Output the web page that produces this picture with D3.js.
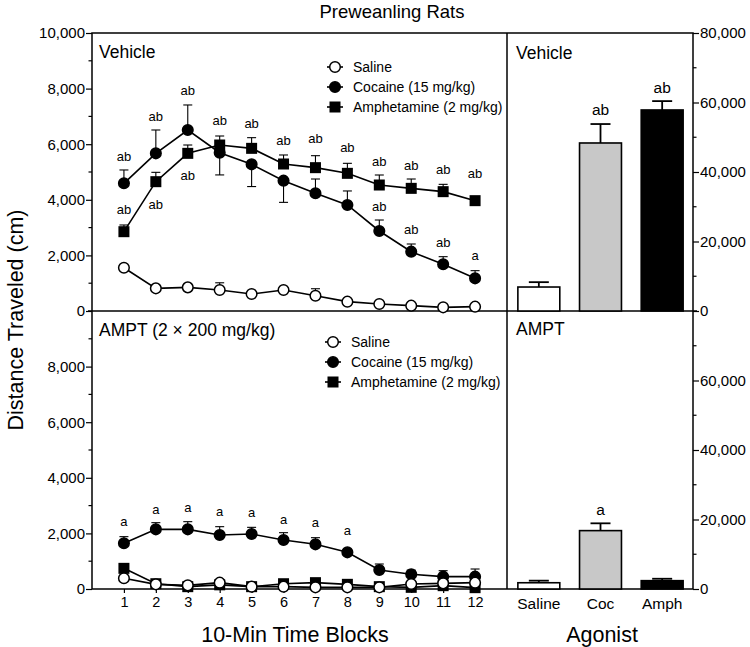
<!DOCTYPE html>
<html><head><meta charset="utf-8">
<script src="https://cdn.jsdelivr.net/npm/d3@7"></script>
<style>
body{margin:0;background:#fff;}
svg text{font-family:"Liberation Sans",Arial,sans-serif;fill:#000;}
</style></head>
<body><svg id="c" width="750" height="647"></svg>
<script>
// ---------- DATA ----------
const timeBlocks = [1,2,3,4,5,6,7,8,9,10,11,12];
const vehSaline    = [1557,815,850,755,611,755,551,336,252,192,132,156];
const vehSalineErr = [90,90,90,260,90,90,250,90,90,90,90,90];
const vehCocaine    = [4593,5671,6511,5695,5276,4688,4233,3813,2878,2134,1679,1175];
const vehCocaineErr = [480,840,900,800,800,780,515,505,395,276,275,276];
const vehCocaineErrDir = [1,1,1,-1,-1,-1,1,1,1,1,1,1];
const vehAmph    = [2853,4652,5671,5971,5851,5288,5156,4952,4532,4412,4293,3969];
const vehAmphErr = [241,336,300,324,384,324,431,360,360,336,263,100];
const vehLabelsCoc = ["ab","ab","ab","","","","","","ab","ab","ab","a"];
const vehLabelsCocAt = [5576,6996,7924,null,null,null,null,null,3777,2950,2482,2000];
const vehLabelsAmph = ["ab","ab","ab","ab","ab","ab","ab","ab","ab","ab","ab","ab"];
const vehLabelsAmphAt = [3669,3849,4874,6871,6750,6151,6212,5888,5371,5252,5097,4953];

const amptSaline    = [384,168,132,228,84,84,60,60,60,180,204,228];
const amptSalineErr = [60,60,60,80,60,60,60,60,60,60,60,60];
const amptCocaine    = [1643,2146,2146,1942,1978,1763,1607,1319,683,528,444,444];
const amptCocaineErr = [240,240,276,300,240,263,239,100,216,150,215,275];
const amptAmph    = [743,190,84,150,84,190,228,168,84,60,120,48];
const amptAmphErr = [60,60,60,60,60,60,60,60,60,60,60,60];
const amptLabelsCoc = ["a","a","a","a","a","a","a","a","","","",""];
const amptLabelsCocAt = [2421,2878,2939,2781,2759,2518,2399,2097,null,null,null,null];

const agonists = ["Saline","Coc","Amph"];
const vehTotals = [6900,48350,57850];
const vehTotalsErr = [1400,5450,2550];
const vehTotalsLabels = ["","ab","ab"];
const amptTotals = [1800,16800,2400];
const amptTotalsErr = [600,2100,550];
const amptTotalsLabels = ["","a",""];

const leftTicks = [0,2000,4000,6000,8000,10000];
const leftTickLabels = ["0","2,000","4,000","6,000","8,000","10,000"];
const rightTicks = [0,20000,40000,60000,80000];
const rightTickLabels = ["0","20,000","40,000","60,000","80,000"];
const legendNames = ["Saline","Cocaine (15 mg/kg)","Amphetamine (2 mg/kg)"];

// ---------- LAYOUT ----------
const svg = d3.select("#c");
const L=92, M=507, R=693, T=33, MID=311, B=589;
const x = d3.scaleLinear().domain([0,13]).range([L,M]);
const yTop = d3.scaleLinear().domain([0,10000]).range([MID,T]);
const yBot = d3.scaleLinear().domain([0,10000]).range([B,MID]);
const xb = d3.scaleBand().domain(agonists).range([M+1,R]).paddingInner(0.32).paddingOuter(0.16);
const ybTop = d3.scaleLinear().domain([0,80000]).range([MID,T]);
const ybBot = d3.scaleLinear().domain([0,80000]).range([B,MID]);

// Title & axis titles
svg.append("text").attr("x",392).attr("y",18).attr("text-anchor","middle").style("font-size","18.5px").text("Preweanling Rats");
svg.append("text").attr("transform","translate(23,320) rotate(-90)").attr("text-anchor","middle").style("font-size","21.5px").text("Distance Traveled (cm)");
svg.append("text").attr("x",295).attr("y",642).attr("text-anchor","middle").style("font-size","21.5px").text("10-Min Time Blocks");
svg.append("text").attr("x",602).attr("y",642).attr("text-anchor","middle").style("font-size","21.5px").text("Agonist");

// Left axes
function leftAxis(y, g, showTop){
  const major = leftTicks.filter(v=>showTop||v<10000);
  const minor = d3.range(1000,10000,2000);
  const ax = d3.axisLeft(y).tickValues(major).tickSize(6).tickFormat(v=>leftTickLabels[leftTicks.indexOf(v)]);
  g.attr("transform",`translate(${L},0)`).call(ax);
  g.select(".domain").remove();
  g.selectAll("text").style("font-size","15px").attr("x",-7);
  g.selectAll(".minor").data(minor).enter().append("line").attr("class","minor")
    .attr("x1",0).attr("x2",-3.5).attr("y1",d=>y(d)).attr("y2",d=>y(d)).attr("stroke","#000").attr("stroke-width",1.2);
  g.selectAll("line").attr("stroke-width",1.2);
}
leftAxis(yTop, svg.append("g"), true);
leftAxis(yBot, svg.append("g"), false);

function rightAxis(y, g, showTop){
  const major = rightTicks.filter(v=>showTop||v<80000);
  const minor = d3.range(10000,80000,20000);
  const ax = d3.axisRight(y).tickValues(major).tickSize(6).tickFormat(v=>rightTickLabels[rightTicks.indexOf(v)]);
  g.attr("transform",`translate(${R},0)`).call(ax);
  g.select(".domain").remove();
  g.selectAll("text").style("font-size","15px").attr("x",7);
  g.selectAll(".minor").data(minor).enter().append("line").attr("class","minor")
    .attr("x1",0).attr("x2",3.5).attr("y1",d=>y(d)).attr("y2",d=>y(d)).attr("stroke","#000").attr("stroke-width",1.2);
  g.selectAll("line").attr("stroke-width",1.2);
}
rightAxis(ybTop, svg.append("g"), true);
rightAxis(ybBot, svg.append("g"), false);

// bottom x axis
const gx = svg.append("g").attr("transform",`translate(0,${B})`)
  .call(d3.axisBottom(x).tickValues(timeBlocks).tickSize(4).tickFormat(d=>d));
gx.select(".domain").remove();
gx.selectAll("text").style("font-size","14.5px").attr("y",8);
gx.selectAll("line").attr("stroke-width",1.2);
const gxb = svg.append("g").attr("transform",`translate(0,${B})`)
  .call(d3.axisBottom(xb).tickSize(0));
gxb.select(".domain").remove();
gxb.selectAll("text").style("font-size","15.5px").attr("y",9);

// Frame
const frame = svg.append("g").attr("stroke","#000").attr("stroke-width",1.5).attr("fill","none");
frame.append("rect").attr("x",L).attr("y",T).attr("width",R-L).attr("height",B-T);
frame.append("line").attr("x1",L-4).attr("x2",R+4).attr("y1",MID).attr("y2",MID);
frame.append("line").attr("x1",M).attr("x2",M).attr("y1",T).attr("y2",B);

// Line panels
function series(g, y, vals, errs, dirs, shape){
  const pts = timeBlocks.map((t,i)=>({t, v:vals[i], e:errs[i], d:dirs?dirs[i]:1}));
  const eg = g.append("g").attr("stroke","#000").attr("stroke-width",1.1);
  pts.forEach(p=>{
    const ye = y(p.v + p.d*p.e);
    eg.append("line").attr("x1",x(p.t)).attr("x2",x(p.t)).attr("y1",y(p.v)).attr("y2",ye);
    eg.append("line").attr("x1",x(p.t)-4.5).attr("x2",x(p.t)+4.5).attr("y1",ye).attr("y2",ye);
  });
  g.append("path").datum(pts).attr("fill","none").attr("stroke","#000").attr("stroke-width",1.6)
    .attr("d", d3.line().x(p=>x(p.t)).y(p=>y(p.v)));
  drawMarks(g, pts.map(p=>[x(p.t), y(p.v)]), shape);
}
function drawMarks(g, coords, shape){
  coords.forEach(([cx,cy])=>{
    if(shape==="square"){
      g.append("rect").attr("x",cx-5.5).attr("y",cy-5.5).attr("width",11).attr("height",11).attr("fill","#000");
    } else {
      g.append("circle").attr("cx",cx).attr("cy",cy).attr("r",5.3)
        .attr("fill", shape==="open"?"#fff":"#000").attr("stroke","#000").attr("stroke-width",1.5);
    }
  });
}
function labels(g, y, texts, at){
  texts.forEach((t,i)=>{
    if(!t) return;
    g.append("text").attr("x",x(timeBlocks[i])).attr("y",y(at[i])).attr("dy","0.35em")
      .attr("text-anchor","middle").style("font-size","13px").text(t);
  });
}
function legend(g, lx, ly){
  const shapes=["open","filled","square"];
  legendNames.forEach((n,i)=>{
    const yy = ly + i*20;
    g.append("line").attr("x1",lx-8).attr("x2",lx+8).attr("y1",yy).attr("y2",yy).attr("stroke","#000").attr("stroke-width",1.6);
    drawMarks(g, [[lx,yy]], shapes[i]);
    g.append("text").attr("x",lx+18).attr("y",yy).attr("dy","0.35em").style("font-size","14px").text(n);
  });
}

const gt = svg.append("g");
series(gt, yTop, vehCocaine, vehCocaineErr, vehCocaineErrDir, "filled");
series(gt, yTop, vehAmph, vehAmphErr, null, "square");
series(gt, yTop, vehSaline, vehSalineErr, null, "open");
labels(gt, yTop, vehLabelsCoc, vehLabelsCocAt);
labels(gt, yTop, vehLabelsAmph, vehLabelsAmphAt);
legend(gt, 335, 67);
gt.append("text").attr("x",99).attr("y",52).attr("dy","0.35em").style("font-size","17.5px").text("Vehicle");

const gb = svg.append("g");
series(gb, yBot, amptCocaine, amptCocaineErr, null, "filled");
series(gb, yBot, amptAmph, amptAmphErr, null, "square");
series(gb, yBot, amptSaline, amptSalineErr, null, "open");
labels(gb, yBot, amptLabelsCoc, amptLabelsCocAt);
legend(gb, 333, 342);
gb.append("text").attr("x",99).attr("y",330).attr("dy","0.35em").style("font-size","17.5px").text("AMPT (2 \u00d7 200 mg/kg)");

// Bar panels
const fills = ["#fff","#c8c8c8","#000"];
function bars(g, y, vals, errs, labs){
  agonists.forEach((a,i)=>{
    const bx = xb(a), bw = xb.bandwidth(), cx = bx+bw/2;
    const ye = y(vals[i]+errs[i]);
    g.append("line").attr("x1",cx).attr("x2",cx).attr("y1",y(vals[i])).attr("y2",ye).attr("stroke","#000").attr("stroke-width",1.8);
    g.append("line").attr("x1",cx-10).attr("x2",cx+10).attr("y1",ye).attr("y2",ye).attr("stroke","#000").attr("stroke-width",1.8);
    g.append("rect").attr("x",bx).attr("y",y(vals[i])).attr("width",bw).attr("height",y(0)-y(vals[i]))
      .attr("fill",fills[i]).attr("stroke","#000").attr("stroke-width",1.6);
    if(labs[i]) g.append("text").attr("x",cx).attr("y",ye-14).attr("dy","0.35em").attr("text-anchor","middle").style("font-size","15.5px").text(labs[i]);
  });
}
const gbt = svg.append("g");
bars(gbt, ybTop, vehTotals, vehTotalsErr, vehTotalsLabels);
gbt.append("text").attr("x",516).attr("y",53).attr("dy","0.35em").style("font-size","17.5px").text("Vehicle");
const gbb = svg.append("g");
bars(gbb, ybBot, amptTotals, amptTotalsErr, amptTotalsLabels);
gbb.append("text").attr("x",516).attr("y",329).attr("dy","0.35em").style("font-size","17.5px").text("AMPT");
</script></body></html>
